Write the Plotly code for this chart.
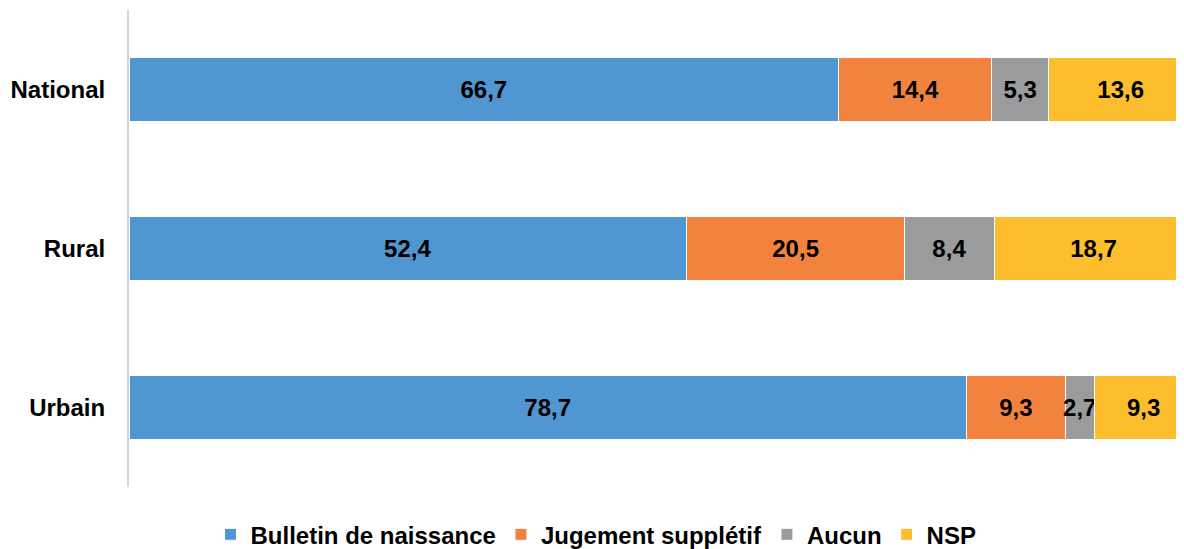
import plotly.graph_objects as go

# Data
categories = ["National", "Rural", "Urbain"]
series = ["Bulletin de naissance", "Jugement supplétif", "Aucun", "NSP"]
bulletin = [66.7, 52.4, 78.7]
jugement = [14.4, 20.5, 9.3]
aucun = [5.3, 8.4, 2.7]
nsp = [13.6, 18.7, 9.3]
colors = ["#5096D0", "#F2833F", "#999B9C", "#FCBE2C"]

fig = go.Figure()

for name, vals, col in zip(series, [bulletin, jugement, aucun, nsp], colors):
    fig.add_trace(go.Bar(
        y=categories, x=vals, name=name, orientation="h",
        marker=dict(color=col, line=dict(color="white", width=1)),
        text=[f"{v:.1f}".replace(".", ",") for v in vals],
        textposition="inside", insidetextanchor="middle", textangle=0,
        textfont=dict(family="Liberation Sans", size=24, color="black", weight="bold"),
        width=0.4,
    ))

# page body has an 8px margin, so the figure is a bit smaller than the window
fig.update_layout(
    barmode="stack",
    width=1176, height=541,
    margin=dict(l=121, r=0, t=2, b=62, autoexpand=False),
    plot_bgcolor="white", paper_bgcolor="white",
    font=dict(family="Liberation Sans", color="black"),
    uniformtext=dict(minsize=24, mode="show"),
    showlegend=True,
    legend=dict(orientation="h", xref="container", x=0.5, xanchor="center",
                y=-0.1, yanchor="middle",
                font=dict(size=24, weight="bold"), traceorder="normal",
                itemwidth=30),
)
fig.update_xaxes(range=[0, 99.15], showgrid=False, showticklabels=False, zeroline=False)
fig.update_yaxes(autorange="reversed", showline=True, linecolor="#d4d4d4", linewidth=2,
                 tickfont=dict(size=24, weight="bold"), ticklabelstandoff=17,
                 showgrid=False, automargin=False)

fig.write_html("out.html")
